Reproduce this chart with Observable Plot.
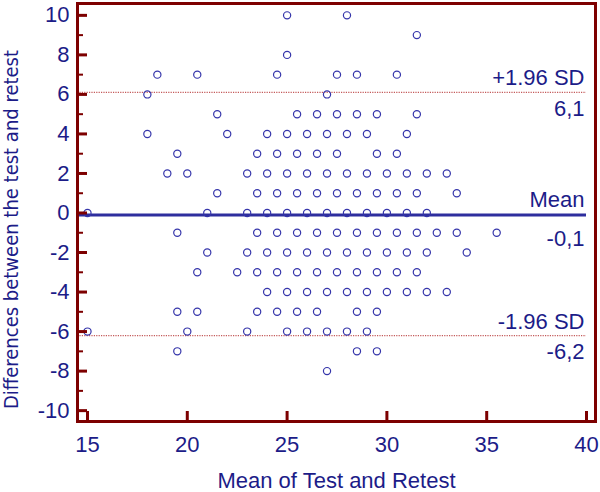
<!DOCTYPE html>
<html>
<head>
<meta charset="utf-8">
<script src="https://cdn.jsdelivr.net/npm/d3@7"></script>
<script src="https://cdn.jsdelivr.net/npm/@observablehq/plot@0.6"></script>
<style>
  html, body { margin: 0; padding: 0; background: #ffffff; }
  #chart svg { display: block; }
</style>
</head>
<body>
<div id="chart"></div>
<script>
// ---- data ----
// differences (test - retest), one row per integer difference
const rowDiffs = [10, 9, 8, 7, 6, 5, 4, 3, 2, 1, 0, -1, -2, -3, -4, -5, -6, -7, -8];
// means of test and retest for the points in each row
const rowMeans = [
  [25, 28],
  [31.5],
  [25],
  [18.5, 20.5, 24.5, 27.5, 28.5, 30.5],
  [18, 27],
  [21.5, 25.5, 26.5, 27.5, 28.5, 29.5, 31.5],
  [18, 22, 24, 25, 26, 27, 28, 29, 31],
  [19.5, 23.5, 24.5, 25.5, 26.5, 27.5, 29.5, 30.5],
  [19, 20, 23, 24, 25, 26, 27, 28, 29, 30, 31, 32, 33],
  [21.5, 23.5, 24.5, 25.5, 26.5, 27.5, 28.5, 29.5, 30.5, 31.5, 33.5],
  [15, 21, 23, 24, 25, 26, 27, 28, 29, 30, 31, 32],
  [19.5, 23.5, 24.5, 25.5, 26.5, 27.5, 28.5, 29.5, 30.5, 31.5, 32.5, 33.5, 35.5],
  [21, 23, 24, 25, 26, 27, 28, 29, 30, 31, 32, 34],
  [20.5, 22.5, 23.5, 24.5, 25.5, 26.5, 27.5, 28.5, 29.5, 30.5, 31.5],
  [24, 25, 26, 27, 28, 29, 30, 31, 32, 33],
  [19.5, 20.5, 23.5, 24.5, 25.5, 26.5, 28.5, 29.5],
  [15, 20, 23, 25, 26, 27, 28, 29],
  [19.5, 28.5, 29.5],
  [27]
];
// limits of agreement
const sdNames = ["+1.96 SD", "-1.96 SD"];
const sdValues = [6.1, -6.2];
const sdLabels = ["6,1", "-6,2"];
const meanName = ["Mean"];
const meanValue = [-0.1];
const meanLabel = ["-0,1"];
// axes
const xTicks = [15, 20, 25, 30, 35, 40];
const yMajorTicks = [-10, -8, -6, -4, -2, 0, 2, 4, 6, 8, 10];
const yMinorTicks = [-9, -7, -5, -3, -1, 1, 3, 5, 7, 9];
const xTitle = "Mean of Test and Retest";
const yTitle = "Differences between the test and retest";

// ---- build table ----
const points = rowDiffs.flatMap((d, i) => rowMeans[i].map(m => ({mean: m, diff: d})));
const sdRows = sdNames.map((n, i) => ({name: n, value: sdValues[i], label: sdLabels[i]}));
const meanRows = meanName.map((n, i) => ({name: n, value: meanValue[i], label: meanLabel[i]}));

// ---- styling ----
const W = 600, H = 492;
const mL = 77, mR = 5, mT = 3, mB = 71;
const plotW = W - mL - mR, plotH = H - mT - mB;
const navy = "#1c1c88";
const dotBlue = "#3535aa";
const frameRed = "#7d0000";

const chart = Plot.plot({
  width: W,
  height: H,
  marginLeft: mL,
  marginRight: mR,
  marginTop: mT,
  marginBottom: mB,
  style: {fontFamily: "'Liberation Sans', Arial, sans-serif", background: "#ffffff"},
  x: {domain: [14.5, 40.45]},
  y: {domain: [-10.55, 10.6]},
  marks: [
    Plot.ruleY(sdRows, {y: "value", stroke: "#c45a5a", strokeWidth: 1.3, strokeDasharray: "1.2 1.2", insetRight: 9}),
    Plot.ruleY(meanRows, {y: "value", stroke: "#2e2e9e", strokeWidth: 3, insetRight: 9}),
    Plot.dot(points, {x: "mean", y: "diff", r: 3.6, stroke: dotBlue, strokeWidth: 1.2, fill: "none"}),
    Plot.frame({stroke: frameRed, strokeWidth: 3}),
    Plot.tickY(yMinorTicks, {y: d => d, stroke: frameRed, strokeWidth: 2, insetRight: plotW - 6}),
    Plot.tickY(yMajorTicks, {y: d => d, stroke: frameRed, strokeWidth: 3, insetRight: plotW - 10}),
    Plot.tickX(xTicks, {x: d => d, stroke: frameRed, strokeWidth: 3, insetTop: plotH - 10}),
    Plot.axisY({ticks: yMajorTicks, tickSize: 0, tickPadding: 8, tickFormat: d => String(d), fontSize: 22, fill: navy, label: null}),
    Plot.axisX({ticks: xTicks, tickSize: 0, tickPadding: 15, tickFormat: d => String(d), fontSize: 22, fill: navy, label: null}),
    Plot.text(sdRows, {y: "value", text: "name", frameAnchor: "right", textAnchor: "end", lineAnchor: "bottom", dx: -11, dy: -7, fontSize: 22, fill: navy}),
    Plot.text(sdRows, {y: "value", text: "label", frameAnchor: "right", textAnchor: "end", lineAnchor: "top", dx: -11, dy: 8, fontSize: 22, fill: navy}),
    Plot.text(meanRows, {y: "value", text: "name", frameAnchor: "right", textAnchor: "end", lineAnchor: "bottom", dx: -11, dy: -8, fontSize: 22, fill: navy}),
    Plot.text(meanRows, {y: "value", text: "label", frameAnchor: "right", textAnchor: "end", lineAnchor: "top", dx: -11, dy: 15, fontSize: 22, fill: navy}),
    Plot.text([xTitle], {text: d => d, frameAnchor: "bottom", textAnchor: "middle", lineAnchor: "bottom", dy: 66, fontSize: 22, fill: navy}),
    Plot.text([yTitle], {text: d => d, frameAnchor: "left", textAnchor: "middle", rotate: -90, lineAnchor: "middle", dx: -66, dy: 17, fontSize: 20, fill: navy,
      fontFamily: "'DejaVu Sans Condensed', 'DejaVu Sans', sans-serif", fontStretch: "condensed"})
  ]
});
document.getElementById("chart").appendChild(chart);
</script>
</body>
</html>
